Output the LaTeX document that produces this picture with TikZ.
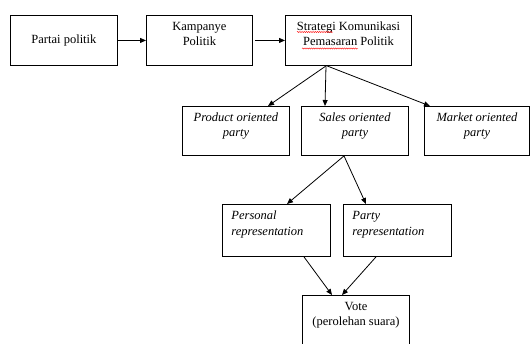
\documentclass[tikz,border=0pt]{standalone}
\usepackage{fontspec}
\setmainfont{Liberation Serif}
\usetikzlibrary{arrows.meta,decorations.pathmorphing}
\newcommand{\ctext}[3]{\parbox[t][#2][t]{#1}{\centering\rule{0pt}{15pt}#3}}
\newcommand{\ltext}[3]{\parbox[t][#2][t]{#1}{\raggedright\leftskip=9pt\rule{0pt}{15.5pt}#3}}
\begin{document}
\begin{tikzpicture}[x=1pt,y=-1pt,
  box/.style={draw, line width=0.9pt, inner sep=0pt, anchor=north west},
  arr/.style={-{Triangle[length=6pt,width=5pt]}, line width=0.8pt},
  squiggle/.style={red, line width=0.4pt, decorate, decoration={snake, amplitude=0.6pt, segment length=2.2pt}},
  font=\fontsize{12.5}{15.5}\selectfont]
\useasboundingbox (0,0) rectangle (530,343);
\node[box, minimum width=107pt, minimum height=50pt] (partai) at (10,15) {Partai politik};
\node[box] (kamp) at (146,15) {\ctext{106pt}{50pt}{Kampanye\\Politik}};
\node[box] (strat) at (285,15) {\ctext{126pt}{50pt}{Strategi Komunikasi\\Pemasaran Politik}};
\node[box] (prod) at (182,106) {\ctext{107pt}{49pt}{\itshape Product oriented\\party}};
\node[box] (sales) at (301,106) {\ctext{107pt}{49pt}{\itshape Sales oriented\\party}};
\node[box] (market) at (424,106) {\ctext{105pt}{49pt}{\itshape Market oriented\\party}};
\node[box] (pers) at (222,204) {\ltext{108pt}{52pt}{\itshape Personal\\representation}};
\node[box] (party) at (343,204) {\ltext{108pt}{52pt}{\itshape Party\\representation}};
\node[box] (vote) at (302,295) {\ctext{107pt}{50pt}{Vote\\(perolehan suara)}};
\draw[squiggle] (297,32) -- (333,32);
\draw[squiggle] (302,48.5) -- (358,48.5);
\draw[arr] (partai.east) -- (kamp.west);
\draw[arr] ([xshift=2pt]kamp.east) -- (strat.west);
\draw[arr] ([xshift=41pt]strat.south west) -- ([xshift=86pt]prod.north west);
\draw[arr] ([xshift=41pt]strat.south west) -- ([xshift=24pt]sales.north west);
\draw[arr] ([xshift=42pt]strat.south west) -- ([xshift=6pt]market.north west);
\draw[arr] ([xshift=43pt]sales.south west) -- ([xshift=65pt]pers.north west);
\draw[arr] ([xshift=43pt]sales.south west) -- ([xshift=23pt]party.north west);
\draw[arr] ([xshift=82pt]pers.south west) -- ([xshift=30pt]vote.north west);
\draw[arr] ([xshift=33pt]party.south west) -- ([xshift=40pt]vote.north west);
\end{tikzpicture}
\end{document}
